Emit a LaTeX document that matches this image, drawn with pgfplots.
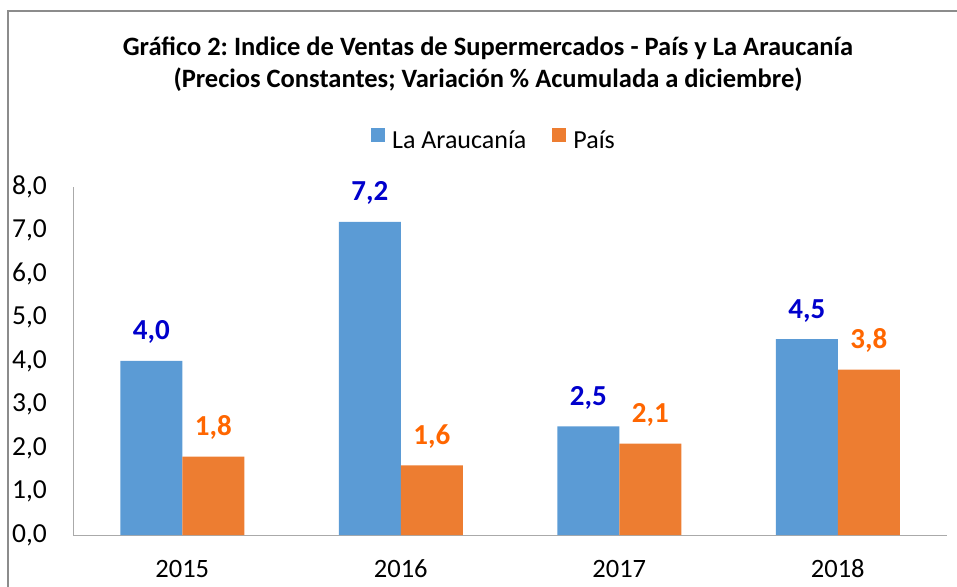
\documentclass[border=0pt]{standalone}
\usepackage{fontspec}
\setmainfont{Carlito}
\usepackage{pgfplots}
\pgfplotsset{compat=1.18}
\frenchspacing
\definecolor{barblue}{RGB}{91,155,213}
\definecolor{barorange}{RGB}{237,125,49}
\definecolor{lblblue}{RGB}{0,0,204}
\definecolor{lblorange}{RGB}{255,102,0}
\definecolor{axgray}{RGB}{170,170,170}
\definecolor{framegray}{RGB}{140,140,140}
\begin{document}
\begin{tikzpicture}[x=1pt,y=1pt]
\useasboundingbox (0,0) rectangle (957,586);
\begin{scope}
\clip (0,0) rectangle (957,586);
\draw[framegray, line width=2pt] (8,-10) -- (8,575) -- (975,575);
\end{scope}
\node[anchor=base, inner sep=0pt, font=\fontsize{26.5}{30}\selectfont\bfseries] at (488,530) {Gráfico 2: Indice de Ventas de Supermercados - País y La Araucanía};
\node[anchor=base, inner sep=0pt, font=\fontsize{26.5}{30}\selectfont\bfseries] at (488,498) {(Precios Constantes; Variación \% Acumulada a diciembre)};
\begin{axis}[
  at={(73pt,51pt)}, anchor=south west, scale only axis,
  width=874pt, height=348pt,
  xmin=-0.5, xmax=3.5, ymin=0, ymax=8,
  ybar=0pt, bar width=62pt,
  clip=false,
  axis x line*=bottom, axis y line*=left,
  axis line style={axgray, line width=1pt, -},
  xtick={0,1,2,3}, xticklabels={2015,2016,2017,2018},
  ytick={0,1,...,8},
  major tick length=0pt,
  xtick style={draw=none}, ytick style={draw=none},
  yticklabel={\pgfmathprintnumber[fixed,fixed zerofill,precision=1,use comma,assume math mode=true]{\tick}},
  yticklabel style={anchor=east, inner sep=0pt, xshift=-26pt, font=\fontsize{27.5}{30}\selectfont},
  xticklabel style={anchor=base, inner sep=0pt, yshift=-42pt, font=\fontsize{26.5}{30}\selectfont},
  nodes near coords={\pgfmathprintnumber[fixed,fixed zerofill,precision=1,use comma,assume math mode=true]{\pgfplotspointmeta}},
  legend style={at={(0.4817,1.135)}, anchor=center, draw=none, fill=none,
    legend columns=2, font=\fontsize{26}{30}\selectfont,
    /tikz/every odd column/.append style={column sep=5pt},
    /tikz/every even column/.append style={column sep=24pt}},
]
\addplot[fill=barblue, draw=none,
  legend image code/.code={\fill[barblue] (0pt,-1pt) rectangle (14pt,13pt);},
  every node near coord/.append style={font=\fontsize{29}{30}\selectfont\bfseries, text=lblblue, anchor=base, inner sep=0pt, yshift=21pt}]
  coordinates {(0,4.0) (1,7.2) (2,2.5) (3,4.5)};
\addplot[fill=barorange, draw=none,
  legend image code/.code={\fill[barorange] (0pt,-1pt) rectangle (14pt,13pt);},
  every node near coord/.append style={font=\fontsize{29}{30}\selectfont\bfseries, text=lblorange, anchor=base, inner sep=0pt, yshift=21pt}]
  coordinates {(0,1.8) (1,1.6) (2,2.1) (3,3.8)};
\legend{La Araucanía, País}
\end{axis}
\end{tikzpicture}
\end{document}
